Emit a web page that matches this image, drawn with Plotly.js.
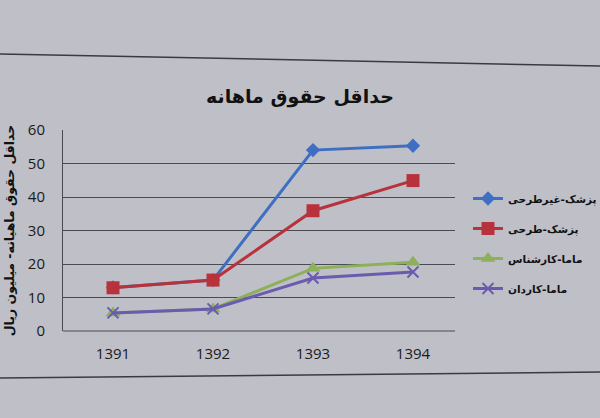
<!DOCTYPE html>
<html>
<head>
<meta charset="utf-8">
<script src="https://cdn.plot.ly/plotly-3.0.1.min.js"></script>
<style>html,body{margin:0;padding:0;background:#bdbdc5;}#chart{width:600px;height:418px;}</style>
</head>
<body>
<div id="chart"></div>
<script>
// Data
const years = ['1391', '1392', '1393', '1394'];
const seriesNames = ['پزشک-غیرطرحی', 'پزشک-طرحی', 'ماما-کارشناس', 'ماما-کاردان'];
const doctorNonPlan = [13, 15.2, 54, 55.3];
const doctorPlan = [12.9, 15.2, 35.9, 44.9];
const midwifeBachelor = [5.4, 6.6, 18.7, 20.5];
const midwifeAssociate = [5.4, 6.6, 15.8, 17.6];
const yTicks = [0, 10, 20, 30, 40, 50, 60];

const colors = ['#3e6fc2', '#b8323c', '#8db05a', '#6a5bb0'];
const symbols = ['diamond', 'square', 'triangle-up', 'x-thin-open'];
const sizes = [11, 13, 13, 11];
const values = [doctorNonPlan, doctorPlan, midwifeBachelor, midwifeAssociate];

const traces = values.map((v, i) => ({
  type: 'scatter', mode: 'lines+markers',
  x: years, y: v, name: seriesNames[i], legendgroup: 'g' + i,
  line: {color: colors[i], width: 3},
  marker: {symbol: symbols[i], size: sizes[i], color: colors[i],
           line: {color: colors[i], width: i === 3 ? 2 : 0}}
}));

const W = 600, H = 418, mL = 63, mR = 145, mT = 130, mB = 87;
const px = x => (x - mL) / (W - mL - mR);
const py = y => (H - mB - y) / (H - mT - mB);

const layout = {
  width: W, height: H,
  margin: {l: mL, r: mR, t: mT, b: mB},
  paper_bgcolor: '#bfbfc7', plot_bgcolor: 'rgba(0,0,0,0)',
  font: {family: 'DejaVu Sans, sans-serif', color: '#1a1a1a'},
  title: {text: 'حداقل حقوق ماهانه', x: 0.5, xref: 'container', xanchor: 'center',
          y: 1 - 96 / H, yref: 'container', yanchor: 'middle',
          font: {size: 19, family: 'DejaVu Sans, sans-serif', weight: 'bold', color: '#111'}},
  xaxis: {type: 'category', range: [-0.5, 3.42], showgrid: false, zeroline: false,
          showline: false, ticks: '', ticklabelstandoff: 12,
          tickfont: {size: 15, family: 'Open Sans, sans-serif', color: '#1a1a1a'}},
  yaxis: {range: [0, 60], tickvals: yTicks, showgrid: true, gridcolor: '#4a4a52', gridwidth: 1,
          zeroline: false, showline: true, linecolor: '#4a4a52', linewidth: 1, ticks: '',
          ticklabelstandoff: 14,
          tickfont: {size: 15, family: 'Open Sans, sans-serif', color: '#1a1a1a'},
          title: {text: 'حداقل حقوق ماهیانه- میلیون ریال', standoff: 10,
                  font: {size: 12.5, family: 'DejaVu Sans, sans-serif', weight: 'bold', color: '#111'}}},
  legend: {xref: 'container', yref: 'container', x: 468 / W, y: 1 - 184 / H,
           xanchor: 'left', yanchor: 'top', bgcolor: 'rgba(0,0,0,0)',
           tracegroupgap: 11, itemwidth: 30,
           font: {size: 10.5, family: 'DejaVu Sans, sans-serif', weight: 'bold', color: '#111'}},
  shapes: [
    {type: 'line', xref: 'paper', yref: 'paper', x0: px(0), x1: px(600), y0: py(54), y1: py(66),
     line: {color: '#3a3a44', width: 1.5}},
    {type: 'line', xref: 'paper', yref: 'paper', x0: px(0), x1: px(600), y0: py(378), y1: py(372),
     line: {color: '#3a3a44', width: 1.5}},
    {type: 'line', xref: 'paper', yref: 'paper', x0: 0, x1: 1, y0: 0, y1: 0,
     line: {color: '#4a4a52', width: 1}}
  ],
  showlegend: true
};

Plotly.newPlot('chart', traces, layout, {displayModeBar: false, staticPlot: true});
</script>
</body>
</html>
